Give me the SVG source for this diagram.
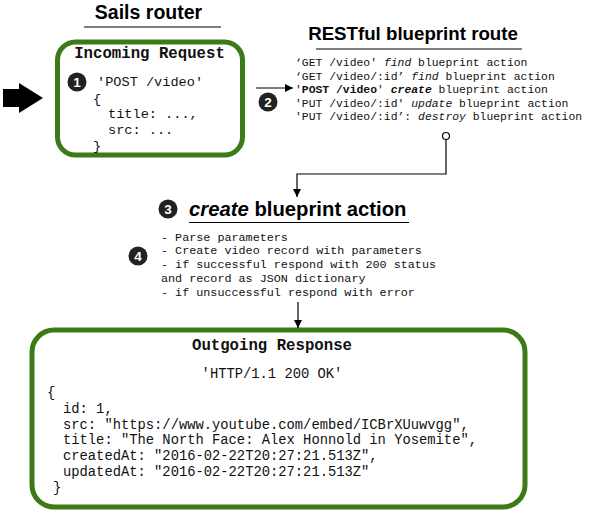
<svg xmlns="http://www.w3.org/2000/svg" width="600" height="516" viewBox="0 0 600 516">
<defs>
<marker id="ah" viewBox="0 0 10 10" refX="10" refY="5" markerWidth="8" markerHeight="8" markerUnits="userSpaceOnUse" orient="auto">
<path d="M0,0 L10,5 L0,10 z" fill="#000"/>
</marker>
<style>
.title{font-family:"Liberation Sans",Arial,sans-serif;font-weight:bold;fill:#000}
.mono{font-family:"Liberation Mono","Courier New",monospace;fill:#111}
.hdr{font-family:"Liberation Mono","Courier New",monospace;font-weight:bold;font-size:15.7px;fill:#111}
.box{fill:#fff;stroke:#3b7a17;stroke-width:5}
.uline{stroke:#000;stroke-width:1.2}
.num circle{fill:#222}
.num text{font-family:"Liberation Sans",Arial,sans-serif;font-weight:bold;font-size:13.5px;fill:#fff;text-anchor:middle}
.conn{fill:none;stroke:#000;stroke-width:1.2}
</style>
</defs>
<rect width="600" height="516" fill="#fff"/>

<g id="sails-router-title">
<text class="title" x="148.5" y="19" font-size="19.5" text-anchor="middle">Sails router</text>
<line class="uline" x1="84" y1="27" x2="221" y2="27"/>
</g>

<g id="input-arrow">
<polygon points="3,89 19,89 19,83 43,98 19,113 19,107 3,107" fill="#000"/>
</g>

<g id="incoming-request">
<rect class="box" x="57.5" y="42" width="185" height="113" rx="18"/>
<text class="hdr" x="149.5" y="58" text-anchor="middle">Incoming Request</text>
<g class="num"><circle cx="77" cy="82" r="9.5"/><text x="77" y="86.8">1</text></g>
<text class="mono" font-size="13.6" x="97" y="86">'POST /video'</text>
<text class="mono" font-size="13.6" x="93" y="103">{</text>
<text class="mono" font-size="13.6" x="108" y="118">title: ...,</text>
<text class="mono" font-size="13.6" x="108" y="134">src: ...</text>
<text class="mono" font-size="13.6" x="93" y="150">}</text>
</g>

<g id="restful-route">
<text class="title" x="413" y="40" font-size="18.7" text-anchor="middle">RESTful blueprint route</text>
<line class="uline" x1="316" y1="49" x2="522" y2="49"/>
<g class="num"><circle cx="268" cy="102" r="9.5"/><text x="268" y="106.8">2</text></g>
<text class="mono" font-size="11.4" x="295" y="66">‘GET /video' <tspan font-style="italic">find</tspan> blueprint action</text>
<text class="mono" font-size="11.4" x="295" y="79.5">‘GET /video/:id’ <tspan font-style="italic">find</tspan> blueprint action</text>
<text class="mono" font-size="11.4" x="295" y="93">'<tspan font-weight="bold">POST /video</tspan>' <tspan font-weight="bold" font-style="italic">create</tspan> blueprint action</text>
<text class="mono" font-size="11.4" x="295" y="106.5">'PUT /video/:id' <tspan font-style="italic">update</tspan> blueprint action</text>
<text class="mono" font-size="11.4" x="295" y="120">'PUT /video/:id’: <tspan font-style="italic">destroy</tspan> blueprint action</text>
</g>

<g id="create-action">
<g class="num"><circle cx="168" cy="209" r="9.5"/><text x="168" y="213.8">3</text></g>
<text class="title" x="189" y="216" font-size="20.3"><tspan font-style="italic">create</tspan> blueprint action</text>
<line class="uline" x1="189" y1="222.5" x2="409" y2="222.5"/>
<g class="num"><circle cx="138" cy="256" r="9.5"/><text x="138" y="260.8">4</text></g>
<text class="mono" font-size="11.75" x="161" y="241">- Parse parameters</text>
<text class="mono" font-size="11.75" x="161" y="254">- Create video record with parameters</text>
<text class="mono" font-size="11.75" x="161" y="268">- if successful respond with 200 status</text>
<text class="mono" font-size="11.75" x="161" y="282">and record as JSON dictionary</text>
<text class="mono" font-size="11.75" x="161" y="296">- if unsuccessful respond with error</text>
</g>

<g id="outgoing-response">
<rect class="box" x="32" y="330" width="493" height="177" rx="22"/>
<text class="hdr" x="272" y="350" text-anchor="middle">Outgoing Response</text>
<text class="mono" font-size="13.8" x="272" y="378" text-anchor="middle">'HTTP/1.1 200 OK'</text>
<text class="mono" font-size="13.8" x="47" y="397">{</text>
<text class="mono" font-size="13.8" x="63" y="413">id: 1,</text>
<text class="mono" font-size="13.8" x="63" y="429">src: "https://www.youtube.com/embed/ICBrXUuwvgg",</text>
<text class="mono" font-size="13.8" x="63" y="444">title: "The North Face: Alex Honnold in Yosemite",</text>
<text class="mono" font-size="13.8" x="63" y="460">createdAt: "2016-02-22T20:27:21.513Z",</text>
<text class="mono" font-size="13.8" x="63" y="476">updatedAt: "2016-02-22T20:27:21.513Z"</text>
<text class="mono" font-size="13.8" x="53" y="492">}</text>
</g>

<g id="connectors">
<line class="conn" x1="256" y1="88" x2="293" y2="88" marker-end="url(#ah)"/>
<polyline class="conn" points="446,139.5 446,174 297,174 297,197" marker-end="url(#ah)"/>
<circle cx="446" cy="136" r="3.5" fill="#fff" stroke="#000" stroke-width="1.2"/>
<line class="conn" x1="298" y1="302" x2="298" y2="328" marker-end="url(#ah)"/>
</g>
</svg>
